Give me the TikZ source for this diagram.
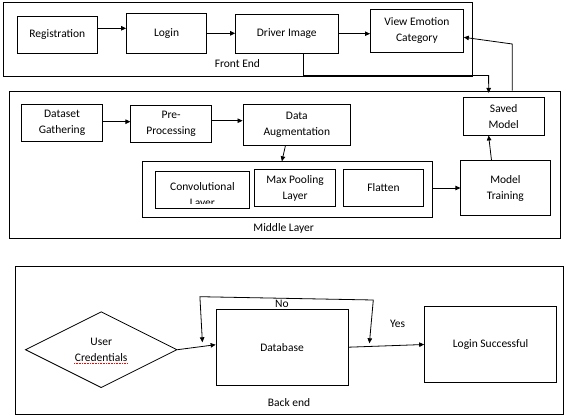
\documentclass[tikz,border=0pt]{standalone}
\usepackage{fontspec}
\setmainfont{Carlito}
\usetikzlibrary{arrows.meta,shapes.geometric,calc}
\newcommand\dfont{\fontsize{11.5}{16}\selectfont}
\begin{document}
\begin{tikzpicture}[x=1pt,y=-1pt,
  box/.style={draw, line width=0.8pt, inner sep=1pt, align=center, font=\dfont},
  frame/.style={draw, line width=0.8pt, inner sep=0pt},
  lbl/.style={font=\dfont, inner sep=1pt, align=center},
  arr/.style={line width=0.8pt, -{Triangle[length=5pt,width=4.5pt]}},
  arrb/.style={line width=0.8pt, {Triangle[length=5pt,width=4.5pt]}-{Triangle[length=5pt,width=4.5pt]}},
  plain/.style={line width=0.8pt}]
\useasboundingbox (0,0) rectangle (566,418);

% ---------- Front End ----------
\node[frame, minimum width=469pt, minimum height=73.3pt] (front) at (237.5,39.4) {};
\node[box, minimum width=80.6pt, minimum height=37.3pt] (reg) at (57.3,34.7) {Registration};
\node[box, minimum width=80.2pt, minimum height=40pt] (login) at (166.6,33.3) {Login};
\node[box, minimum width=102.4pt, minimum height=39.3pt] (driver) at (286.8,33.7) {Driver Image};
\node[box, minimum width=93pt, minimum height=43.7pt] (view) at (416.9,30.9) {View Emotion\\Category};
\node[lbl] (frontlbl) at (237.4,63.3) {Front End};

% ---------- Middle Layer ----------
\node[frame, minimum width=550.2pt, minimum height=147.3pt] (middle) at (284.9,164.7) {};
\node[box, minimum width=80.6pt, minimum height=37.7pt] (dataset) at (62,122.9) {Dataset\\Gathering};
\node[box, minimum width=80.6pt, minimum height=37.3pt] (pre) at (171.1,123.7) {Pre-\\Processing};
\node[box, minimum width=107.7pt, minimum height=41pt] (aug) at (296.8,124.5) {Data\\Augmentation};
\node[box, minimum width=80.7pt, minimum height=37.7pt] (saved) at (503.7,116.2) {Saved\\Model};
\node[frame, minimum width=289.1pt, minimum height=55.6pt] (cnn) at (287.4,189.5) {};
\node[box, minimum width=94pt, minimum height=36.6pt] (conv) at (202.4,190) {};
\begin{scope}
  \clip ([yshift=5pt]conv.south west) rectangle (conv.north east);
  \node[lbl] (convtxt) at (202.4,195) {Convolutional\\Layer};
\end{scope}
\node[box, minimum width=80.6pt, minimum height=37.4pt] (pool) at (295.1,188) {Max Pooling\\Layer};
\node[box, minimum width=80.3pt, minimum height=37.4pt] (flatten) at (383.5,188) {Flatten};
\node[box, minimum width=89.2pt, minimum height=55pt] (train) at (505.4,188.2) {Model\\Training};
\node[lbl] (midlbl) at (283.7,228.3) {Middle Layer};

% ---------- Back end ----------
\node[frame, minimum width=548.6pt, minimum height=147.6pt] (back) at (289.5,340.5) {};
\node[diamond, draw, line width=0.8pt, minimum width=151.7pt, minimum height=76pt, inner sep=0pt,
      align=center, font=\dfont] (cred) at (101.2,349.7) {User\\Credentials};
\draw[red, densely dotted, line width=0.6pt] (74,363.5) -- (128,363.5);
\node[box, minimum width=131.9pt, minimum height=75.7pt] (db) at (282,347.2) {Database};
\node[box, minimum width=132pt, minimum height=75.6pt] (succ) at (490.6,344.5) {Login Successful};
\node[lbl] (nolbl) at (281.9,304) {No};
\node[lbl] (yeslbl) at (397.5,324.3) {Yes};
\node[lbl] (backlbl) at (289.1,402.3) {Back end};

% ---------- connectors ----------
\draw[arr] ([yshift=6.4pt]reg.east) -- ([yshift=6.4pt]reg.east -| login.west);
\draw[arr] (login.east) -- (login.east -| driver.west);
\draw[arr] (driver.east) -- (driver.east -| view.west);

\coordinate (fe1) at (488.6,75.2);
\draw[line width=1pt] ([xshift=16.8pt]driver.south) |- (fe1);
\draw[arr] (fe1) -- ([xshift=-15pt,yshift=4pt]saved.north);

\coordinate (fb) at (512.3,44);
\draw[arr] ([xshift=227.4pt]middle.north) -- (fb) -- ([yshift=-6.4pt]view.east);

\draw[arr] ([yshift=1.2pt]dataset.east) -- ([yshift=1.2pt]dataset.east -| pre.west);
\draw[arr] ([yshift=3pt]pre.east) -- ([yshift=3pt]pre.east -| aug.west);
\draw[arr] ([xshift=-11.3pt]aug.south) -- ([xshift=-5.5pt]cnn.north);
\draw[arr] (flatten.east -| cnn.east) -- (flatten.east -| train.west);
\draw[arr] ([xshift=-13.9pt]train.north) -- ([xshift=-15.1pt]saved.south);

\draw[arr] (cred.east) -- ([yshift=2.5pt]db.west);
\draw[arr] (db.east) -- (succ.west);
\coordinate (nl) at (199.9,296.7);
\coordinate (nr) at (373.3,300);
\coordinate (nlt) at (202.4,342.3);
\coordinate (nrt) at (369.4,343.3);
\draw[arrb] (nlt) -- (nl) -- (nr) -- (nrt);
\end{tikzpicture}
\end{document}
